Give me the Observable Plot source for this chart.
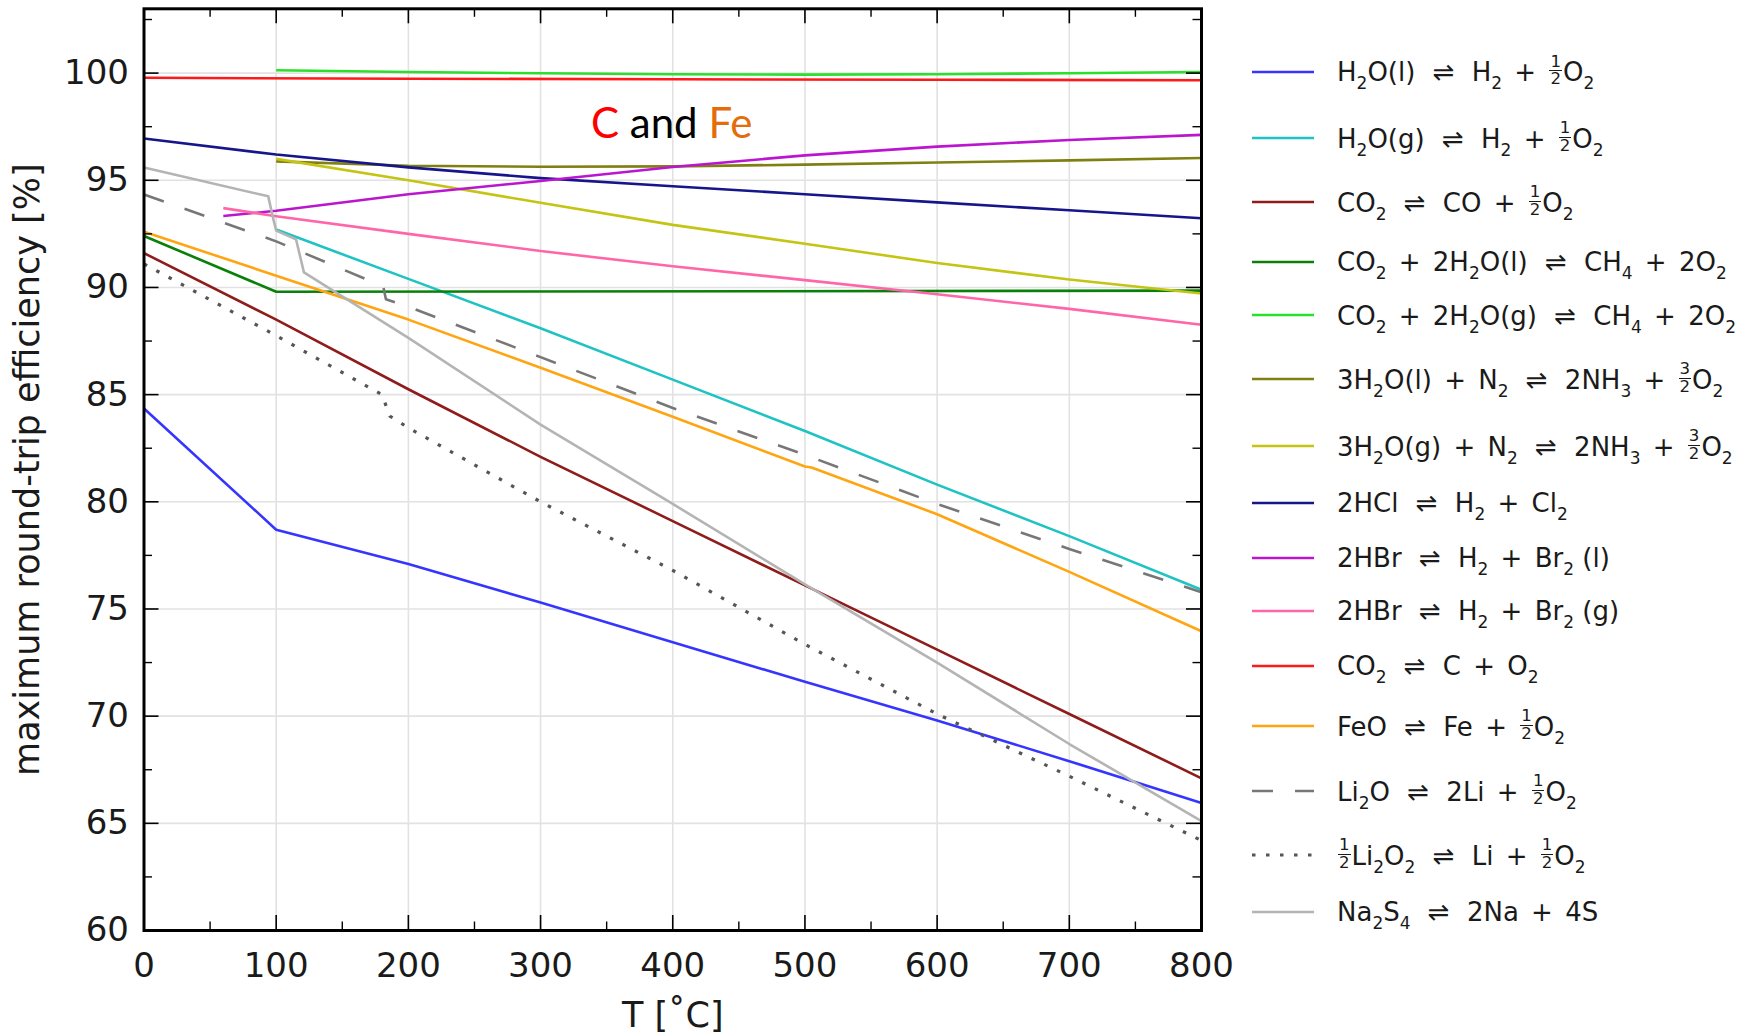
<!DOCTYPE html>
<html>
<head>
<meta charset="utf-8">
<script src="https://cdn.jsdelivr.net/npm/d3@7"></script>
<script src="https://cdn.jsdelivr.net/npm/@observablehq/plot@0.6"></script>
<style>
  body { margin: 0; background: #fff; }
  #wrap { position: relative; width: 1758px; height: 1034px; overflow: hidden; font-family: "DejaVu Sans", sans-serif; background: #fff; }
  #wrap svg.chart { position: absolute; left: 0; top: 0; }
  .row { position: absolute; left: 1337px; white-space: nowrap; font-size: 26px; line-height: 52px; color: #1a1a1a; }
  .sw { position: absolute; left: 1251.6px; }
  .s { font-size: 17px; vertical-align: -8px; }
  .f { display: inline-block; vertical-align: -3.2px; font-size: 16.6px; text-align: center; margin: 0 1px; }
  .f > span { display: block; line-height: 16.6px; padding: 0 1px; }
  .f > span:first-child { border-bottom: 1.2px solid #1a1a1a; }
  .eq { margin: 0 9px; }
  .pl { margin: 0 4px; }
  #ann { position: absolute; left: 591px; top: 101px; font-family: Lato, sans-serif; font-size: 42px; line-height: 42px; white-space: nowrap; color: #000; }
</style>
</head>
<body>
<div id="wrap"></div>
<script>
// ---------------- data ----------------
const xMajor = [0, 100, 200, 300, 400, 500, 600, 700, 800];
const xMinor = [50, 150, 250, 350, 450, 550, 650, 750];
const yMajor = [60, 65, 70, 75, 80, 85, 90, 95, 100];
const yMinor = [62.5, 67.5, 72.5, 77.5, 82.5, 87.5, 92.5, 97.5, 102.5];

const labels = [
  "H_2O(l) ⇌ H_2 + {1/2}O_2",
  "H_2O(g) ⇌ H_2 + {1/2}O_2",
  "CO_2 ⇌ CO + {1/2}O_2",
  "CO_2 + 2H_2O(l) ⇌ CH_4 + 2O_2",
  "CO_2 + 2H_2O(g) ⇌ CH_4 + 2O_2",
  "3H_2O(l) + N_2 ⇌ 2NH_3 + {3/2}O_2",
  "3H_2O(g) + N_2 ⇌ 2NH_3 + {3/2}O_2",
  "2HCl ⇌ H_2 + Cl_2",
  "2HBr ⇌ H_2 + Br_2 (l)",
  "2HBr ⇌ H_2 + Br_2 (g)",
  "CO_2 ⇌ C + O_2",
  "FeO ⇌ Fe + {1/2}O_2",
  "Li_2O ⇌ 2Li + {1/2}O_2",
  "{1/2}Li_2O_2 ⇌ Li + {1/2}O_2",
  "Na_2S_4 ⇌ 2Na + 4S"
];

const tH2OLiq = [0, 100, 200, 300, 400, 500, 600, 700, 800];
const effH2OLiq = [84.35, 78.7, 77.1, 75.3, 73.45, 71.6, 69.8, 67.9, 65.95];
const tH2OGas = [100, 200, 300, 400, 500, 600, 700, 800];
const effH2OGas = [92.7, 90.4, 88.1, 85.7, 83.3, 80.8, 78.4, 75.9];
const tCO = [0, 100, 200, 300, 400, 500, 600, 700, 800];
const effCO = [91.6, 88.5, 85.25, 82.1, 79.1, 76.1, 73.1, 70.1, 67.1];
const tCH4Liq = [0, 100, 800];
const effCH4Liq = [92.4, 89.8, 89.85];
const tCH4Gas = [100, 200, 300, 400, 500, 600, 700, 800];
const effCH4Gas = [100.13, 100.05, 99.99, 99.95, 99.93, 99.95, 99.99, 100.05];
const tNH3Liq = [100, 200, 300, 400, 500, 600, 700, 800];
const effNH3Liq = [95.88, 95.68, 95.63, 95.65, 95.73, 95.83, 95.93, 96.04];
const tNH3Gas = [100, 200, 300, 400, 500, 600, 700, 800];
const effNH3Gas = [96.0, 95.0, 93.95, 92.92, 92.04, 91.14, 90.37, 89.72];
const tHCl = [0, 100, 200, 300, 400, 500, 600, 700, 800];
const effHCl = [96.95, 96.2, 95.6, 95.1, 94.72, 94.35, 93.97, 93.6, 93.23];
const tHBrLiq = [60, 100, 200, 300, 400, 500, 600, 700, 800];
const effHBrLiq = [93.33, 93.58, 94.35, 94.97, 95.62, 96.16, 96.57, 96.88, 97.12];
const tHBrGas = [60, 100, 200, 300, 400, 500, 600, 700, 800];
const effHBrGas = [93.7, 93.32, 92.5, 91.7, 90.99, 90.34, 89.68, 89.0, 88.26];
const tC = [0, 200, 400, 600, 800];
const effC = [99.78, 99.74, 99.71, 99.69, 99.67];
const tFe = [0, 100, 200, 300, 400, 500, 505, 600, 700, 800];
const effFe = [92.6, 90.55, 88.5, 86.25, 83.97, 81.65, 81.6, 79.42, 76.73, 73.96];
const tLi2O = [0, 100, 181, 183, 200, 300, 400, 500, 600, 700, 800];
const effLi2O = [94.34, 92.15, 90.05, 89.45, 89.1, 86.75, 84.38, 82.19, 79.9, 77.8, 75.78];
const tLi2O2 = [0, 100, 180, 186, 200, 300, 400, 500, 600, 700, 800];
const effLi2O2 = [91.1, 87.75, 85.0, 84.0, 83.45, 80.0, 76.8, 73.35, 70.1, 67.2, 64.2];
const tNa2S4 = [0, 94, 97, 100, 115, 121, 200, 300, 400, 500, 600, 700, 800];
const effNa2S4 = [95.6, 94.25, 93.4, 92.65, 92.25, 90.7, 87.65, 83.6, 79.9, 76.15, 72.5, 68.7, 65.1];

const seriesT = [tH2OLiq, tH2OGas, tCO, tCH4Liq, tCH4Gas, tNH3Liq, tNH3Gas, tHCl, tHBrLiq, tHBrGas, tC, tFe, tLi2O, tLi2O2, tNa2S4];
const seriesEff = [effH2OLiq, effH2OGas, effCO, effCH4Liq, effCH4Gas, effNH3Liq, effNH3Gas, effHCl, effHBrLiq, effHBrGas, effC, effFe, effLi2O, effLi2O2, effNa2S4];

// ---------------- styles ----------------
const strokes = ["#3535ff", "#1fc3c3", "#8f1b1b", "#0a800a", "#2ae02a", "#808012", "#c4c414", "#16168a", "#bb16cf", "#ff66aa", "#ff1a1a", "#ffa512", "#777777", "#555555", "#b4b4b4"];
const dashes = [null, null, null, null, null, null, null, null, null, null, null, null, "21,22", "3.5,10.5", null];
const widths = [2.6, 2.6, 2.6, 2.6, 2.6, 2.6, 2.6, 2.6, 2.6, 2.6, 2.6, 2.6, 2.6, 3.2, 2.6];

// ---------------- layout ----------------
const W = 1758, H = 1034, mL = 143.5, mR = 557, mT = 8.3, mB = 104;
const FW = W - mL - mR, FH = H - mT - mB;
const legendY = [71.7, 138.3, 202.3, 261.7, 315, 379.3, 446, 502.7, 557.7, 610.7, 665.7, 726, 791, 855, 911.7];

const tables = seriesT.map((ts, i) => ts.map((t, j) => ({T: t, eff: seriesEff[i][j]})));

const chart = Plot.plot({
  width: W, height: H,
  marginLeft: mL, marginRight: mR, marginTop: mT, marginBottom: mB,
  x: {domain: [0, 800]},
  y: {domain: [60, 103]},
  style: {fontFamily: "DejaVu Sans", color: "#1a1a1a", background: "white", overflow: "visible"},
  marks: [
    Plot.ruleX(xMajor.slice(1, -1), {x: d => d, stroke: "#e2e2e2", strokeWidth: 1.6}),
    Plot.ruleY(yMajor.slice(1), {y: d => d, stroke: "#e2e2e2", strokeWidth: 1.6}),
    ...tables.map((data, i) => Plot.line(data, {
      x: "T", y: "eff", stroke: strokes[i], strokeWidth: widths[i],
      strokeDasharray: dashes[i] ?? undefined, strokeLinecap: "butt", strokeLinejoin: "round"
    })),
    Plot.frame({stroke: "black", strokeWidth: 3}),
    Plot.tickX(xMajor, {x: d => d, insetTop: FH - 15, stroke: "black", strokeWidth: 1.6}),
    Plot.tickX(xMinor, {x: d => d, insetTop: FH - 8.5, stroke: "black", strokeWidth: 1.4}),
    Plot.tickX(xMajor, {x: d => d, insetBottom: FH - 15, stroke: "black", strokeWidth: 1.6}),
    Plot.tickX(xMinor, {x: d => d, insetBottom: FH - 8.5, stroke: "black", strokeWidth: 1.4}),
    Plot.tickY(yMajor, {y: d => d, insetRight: FW - 15, stroke: "black", strokeWidth: 1.6}),
    Plot.tickY(yMinor, {y: d => d, insetRight: FW - 8.5, stroke: "black", strokeWidth: 1.4}),
    Plot.tickY(yMajor, {y: d => d, insetLeft: FW - 15, stroke: "black", strokeWidth: 1.6}),
    Plot.tickY(yMinor, {y: d => d, insetLeft: FW - 8.5, stroke: "black", strokeWidth: 1.4}),
    Plot.axisX({ticks: xMajor, tickSize: 0, tickPadding: 22, fontSize: 34, label: null, tickFormat: d => String(d)}),
    Plot.axisY({ticks: yMajor, tickSize: 0, tickPadding: 15, fontSize: 34, label: null, tickFormat: d => String(d)}),
    Plot.text(["T [˚C]"], {text: d => d, frameAnchor: "bottom", textAnchor: "middle", lineAnchor: "middle", dy: 85, fontSize: 35}),
    Plot.text(["maximum round-trip efficiency [%]"], {text: d => d, frameAnchor: "left", textAnchor: "middle", lineAnchor: "middle", rotate: -90, dx: -116.5, fontSize: 35})
  ]
});
chart.classList.add("chart");
const wrap = document.getElementById("wrap");
wrap.appendChild(chart);

// ---------------- legend ----------------
function esc(c) { return c === "<" ? "&lt;" : c === ">" ? "&gt;" : c === "&" ? "&amp;" : c; }
function markup(s) {
  let out = "";
  for (let i = 0; i < s.length; i++) {
    const c = s[i];
    if (c === "_") { out += `<span class="s">${esc(s[++i])}</span>`; }
    else if (c === "{") {
      const j = s.indexOf("}", i);
      const [n, d] = s.slice(i + 1, j).split("/");
      out += `<span class="f"><span>${n}</span><span>${d}</span></span>`;
      i = j;
    }
    else if (c === "⇌") out += `<span class="eq">⇌</span>`;
    else if (c === "+") out += `<span class="pl">+</span>`;
    else out += esc(c);
  }
  return out;
}
labels.forEach((lab, i) => {
  const y = legendY[i];
  const sw = d3.create("svg").attr("class", "sw").attr("width", 62).attr("height", 8)
    .style("top", (y - 4) + "px");
  sw.append("line").attr("x1", 0).attr("x2", 62).attr("y1", 4).attr("y2", 4)
    .attr("stroke", strokes[i]).attr("stroke-width", widths[i])
    .attr("stroke-dasharray", dashes[i]);
  wrap.appendChild(sw.node());
  const row = document.createElement("div");
  row.className = "row";
  row.style.top = (y - 25.5) + "px";
  row.innerHTML = markup(lab);
  wrap.appendChild(row);
});

// annotation
const ann = document.createElement("div");
ann.id = "ann";
ann.innerHTML = '<span style="color:#ff0000">C</span> and <span style="color:#e46c0a">Fe</span>';
wrap.appendChild(ann);
</script>
</body>
</html>
